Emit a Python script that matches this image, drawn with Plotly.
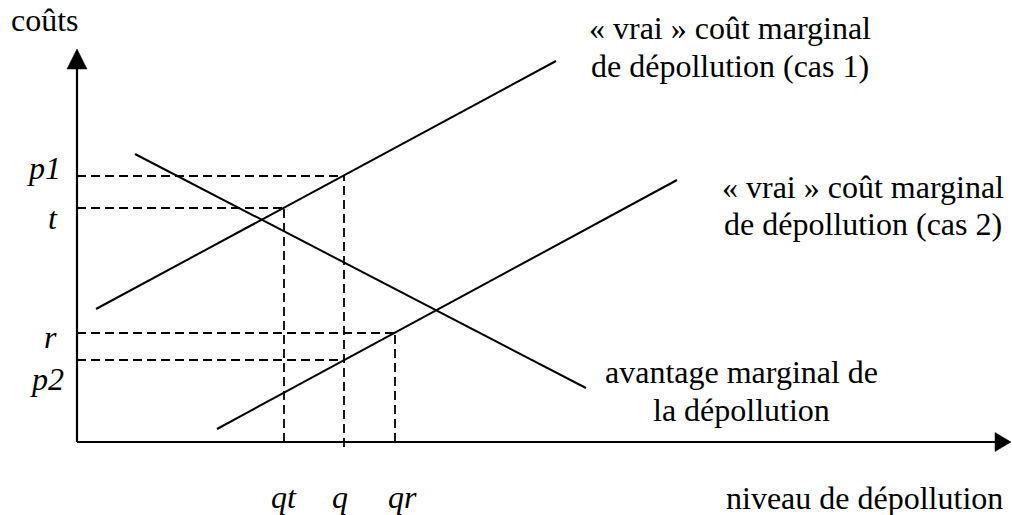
import plotly.graph_objects as go

# ---- data (diagram units: 1 unit = horizontal/vertical step of the axes) ----
q_labels = ["qt", "q", "qr"]
q_values = [20.7, 26.7, 31.8]

p_labels = ["p1", "t", "r", "p2"]
p_values = [26.6, 23.4, 10.9, 8.2]

# which quantity each price level is read at (index into q_values)
p_at_q = [1, 0, 2, 1]

cost1_x = [1.9, 47.9]
cost1_y = [13.3, 38.1]
cost2_x = [14.0, 60.0]
cost2_y = [1.3, 26.2]
benefit_x = [5.8, 50.9]
benefit_y = [28.8, 5.4]

X_MIN, X_MAX = -7.7, 93.5
Y_MIN, Y_MAX = -7.3, 44.2
X_TIP = 93.4
Y_TIP = 39.3

W, H = 1012, 515
UX = (X_MAX - X_MIN) / W   # data units per pixel
UY = (Y_MAX - Y_MIN) / H

FONT = "Liberation Serif"
FS = 32
BLACK = "#000000"

fig = go.Figure()

# dashed guides: horizontals
gx, gy = [], []
for pv, qi in zip(p_values, p_at_q):
    gx += [0, q_values[qi], None]
    gy += [pv, pv, None]
# dashed guides: verticals (up to highest price read at that quantity)
vert_bottom = [0, -0.5, 0]
for i, qv in enumerate(q_values):
    top = max(pv for pv, qi in zip(p_values, p_at_q) if qi == i)
    gx += [qv, qv, None]
    gy += [vert_bottom[i], top, None]

fig.add_trace(go.Scatter(x=gx, y=gy, mode="lines",
                         line=dict(color=BLACK, width=1.8, dash="9px,5px"),
                         hoverinfo="skip", showlegend=False))

for xs, ys in [(cost1_x, cost1_y), (cost2_x, cost2_y), (benefit_x, benefit_y)]:
    fig.add_trace(go.Scatter(x=xs, y=ys, mode="lines",
                             line=dict(color=BLACK, width=2),
                             hoverinfo="skip", showlegend=False))

# axes
fig.add_trace(go.Scatter(x=[0, 0, None, 0, X_TIP - 14 * UX],
                         y=[Y_TIP - 18 * UY, 0, None, 0, 0], mode="lines",
                         line=dict(color=BLACK, width=2.2),
                         hoverinfo="skip", showlegend=False))
# arrow heads (filled triangles, sized in pixels)
ah_len, ah_half = 20, 10
fig.add_trace(go.Scatter(
    x=[-ah_half * UX, ah_half * UX, 0, -ah_half * UX],
    y=[Y_TIP - ah_len * UY, Y_TIP - ah_len * UY, Y_TIP, Y_TIP - ah_len * UY],
    mode="lines", fill="toself", fillcolor=BLACK,
    line=dict(color=BLACK, width=0.5), hoverinfo="skip", showlegend=False))
ax_len, ax_half = 16, 9.5
fig.add_trace(go.Scatter(
    x=[X_TIP - ax_len * UX, X_TIP - ax_len * UX, X_TIP, X_TIP - ax_len * UX],
    y=[-ax_half * UY, ax_half * UY, 0, -ax_half * UY],
    mode="lines", fill="toself", fillcolor=BLACK,
    line=dict(color=BLACK, width=0.5), hoverinfo="skip", showlegend=False))

ann = []

def txt(x, y, s, xanchor="center", italic=False, yshift=0, xshift=0):
    if italic:
        s = "<i>" + s + "</i>"
    ann.append(dict(x=x, y=y, text=s, showarrow=False, xref="x", yref="y",
                    xanchor=xanchor, yanchor="middle", yshift=yshift, xshift=xshift,
                    font=dict(family=FONT, size=FS, color=BLACK)))

# price labels on the vertical axis (pixel offsets for placement)
p_shift = {"p1": (-33, 8), "t": (-24, -10), "r": (-27, -4), "p2": (-30, -19)}
for lab, pv in zip(p_labels, p_values):
    dx, dy = p_shift[lab]
    txt(0, pv, lab, italic=True, xshift=dx, yshift=dy)

# quantity labels under the horizontal axis
q_shift = {"qt": 0, "q": -4, "qr": 7}
for lab, qv in zip(q_labels, q_values):
    txt(qv, 0, lab, italic=True, xshift=q_shift[lab], yshift=-55)

txt(-3.2, 42.2, "coûts")
txt(92.8, 0, "niveau de dépollution", xanchor="right", yshift=-56)

txt(65.3, 41.4, "« vrai » coût marginal")
txt(65.3, 37.6, "de dépollution (cas 1)")
txt(78.6, 25.5, "« vrai » coût marginal")
txt(78.6, 21.8, "de dépollution (cas 2)")
txt(66.4, 7.0, "avantage marginal de")
txt(66.4, 3.2, "la dépollution")

fig.update_layout(
    width=W, height=H,
    margin=dict(l=0, r=0, t=0, b=0),
    paper_bgcolor="white", plot_bgcolor="white",
    xaxis=dict(range=[X_MIN, X_MAX], visible=False, fixedrange=True),
    yaxis=dict(range=[Y_MIN, Y_MAX], visible=False, fixedrange=True),
    annotations=ann,
    showlegend=False,
)

fig.write_html("out.html",
               config={"displayModeBar": False},
               post_script="document.body.style.margin='0';"
                           "document.body.style.overflow='hidden';")
